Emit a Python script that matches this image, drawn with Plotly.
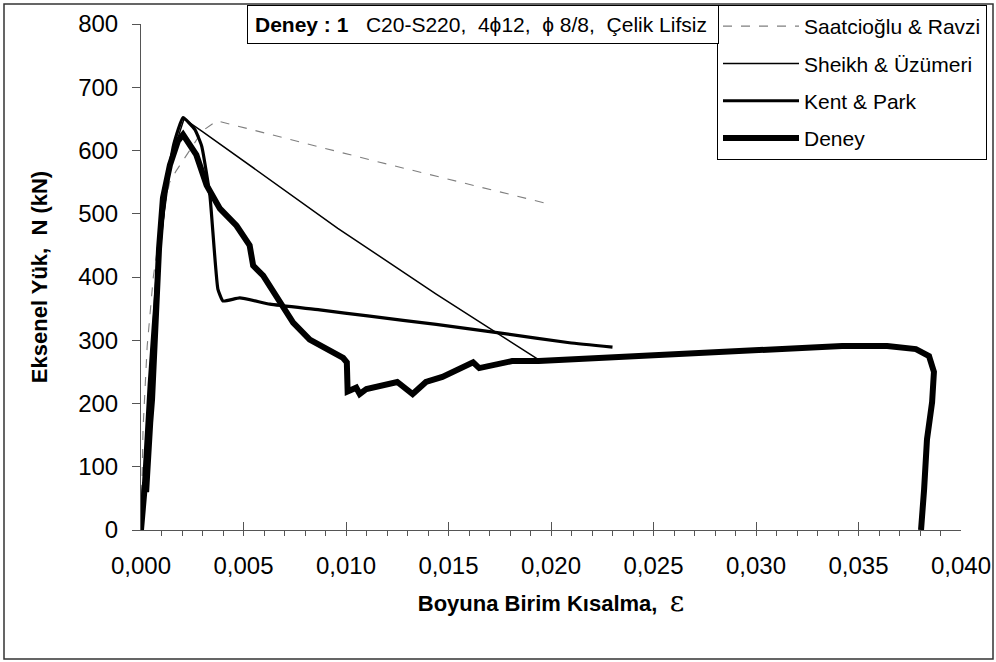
import plotly.graph_objects as go

# ---------------- data (strain, axial load kN) ----------------
saat_eps = [0.0, 0.0001, 0.0003, 0.0006, 0.0010, 0.0014, 0.0017, 0.0024, 0.0030, 0.0037, 0.0112, 0.0197]
saat_N = [0, 160, 290, 400, 490, 550, 567, 602, 631, 647, 585, 517]

sheikh_eps = [0.0, 0.0005, 0.0010, 0.0015, 0.0021, 0.0030, 0.0096, 0.0144, 0.0196]
sheikh_N = [0, 280, 470, 590, 650, 630, 477, 373, 265]

kent_eps = [0.0, 0.0004, 0.0008, 0.0012, 0.0016, 0.00205, 0.00263, 0.00296, 0.00336, 0.00375,
            0.0040, 0.00482, 0.00629, 0.00872, 0.01116, 0.0144, 0.01764, 0.0209, 0.0230]
kent_N = [0, 230, 410, 535, 610, 652, 633, 607, 529, 381,
          362, 367, 357, 348, 338, 325, 311, 296, 289]

deney_eps = [0.0, 0.0001, 0.0002, 0.00025, 0.00034, 0.00045, 0.00054, 0.00068, 0.00088, 0.00107,
             0.00141, 0.0018, 0.00205, 0.0027, 0.0032, 0.00385, 0.00466, 0.0053, 0.00547, 0.00596,
             0.00661, 0.00693, 0.00742, 0.00823, 0.0092, 0.00986, 0.01004, 0.01008, 0.0105, 0.01067,
             0.0110, 0.0125, 0.01325, 0.0139, 0.0147, 0.0162, 0.0165, 0.0175, 0.0181, 0.0194,
             0.0212, 0.0250, 0.0272, 0.0300, 0.0321, 0.0342, 0.0364, 0.0378, 0.03844, 0.03868,
             0.03859, 0.03834, 0.0382, 0.03805]
deney_N = [0, 30, 75, 60, 132, 170, 207, 313, 445, 525,
           577, 615, 625, 593, 545, 508, 481, 450, 418, 402,
           370, 354, 328, 301, 285, 272, 265, 219, 225, 215,
           223, 234, 215, 234, 242, 265, 256, 263, 267, 267,
           270, 276, 278, 284, 288, 291, 291, 286, 275, 250,
           202, 143, 64, 0]

x_tick_step = 0.005
x_minor_step = 0.001
y_tick_step = 100

series_names = ["Saatcioğlu & Ravzi", "Sheikh & Üzümeri", "Kent & Park", "Deney"]
box_text = "<b>Deney : 1</b>   C20-S220,  4ϕ12,  ϕ 8/8,  Çelik Lifsiz"

# ---------------- figure ----------------
fig = go.Figure()
fig.add_trace(go.Scatter(x=saat_eps, y=saat_N, mode="lines", name=series_names[0], legendgroup="a",
                         line=dict(color="#7f7f7f", width=1.1, dash="dash")))
fig.add_trace(go.Scatter(x=sheikh_eps, y=sheikh_N, mode="lines", name=series_names[1], legendgroup="b",
                         line=dict(color="black", width=1.5)))
fig.add_trace(go.Scatter(x=kent_eps, y=kent_N, mode="lines", name=series_names[2], legendgroup="c",
                         line=dict(color="black", width=3.2, shape="spline", smoothing=0.4)))
fig.add_trace(go.Scatter(x=deney_eps, y=deney_N, mode="lines", name=series_names[3], legendgroup="d",
                         line=dict(color="black", width=6)))

L, R, T, B = 141, 35, 24, 132
W, H = 996, 662
pw, ph = W - L - R, H - T - B

def px(x):
    return (x - L) / pw

def py(y):
    return (H - B - y) / ph

fig.update_layout(
    width=W, height=H,
    margin=dict(l=L, r=R, t=T, b=B, autoexpand=False),
    paper_bgcolor="white", plot_bgcolor="white",
    font=dict(family="Liberation Sans, Arial, sans-serif", size=22, color="black"),
    separators=",.",
    showlegend=True,
    legend=dict(x=px(717), y=py(5), xanchor="left", yanchor="top",
                bordercolor="black", borderwidth=1, bgcolor="white",
                font=dict(size=21), tracegroupgap=7, itemwidth=76,
                traceorder="grouped"),
    xaxis=dict(range=[0, 0.040], tickmode="linear", tick0=0, dtick=x_tick_step, tickformat=".3f",
               ticks="inside", ticklen=8, tickcolor="#555", tickwidth=1,
               minor=dict(dtick=x_minor_step, tick0=0, ticks="outside", ticklen=5, tickcolor="#555", tickwidth=1),
               showline=True, linecolor="#555", linewidth=1, showgrid=False, zeroline=False,
               tickfont=dict(size=24), ticklabelstandoff=14,
               title=dict(text="<b>Boyuna Birim Kısalma,</b>  <span style='font-family:DejaVu Serif;font-size:28px'>ε</span>",
                          font=dict(size=22), standoff=17)),
    yaxis=dict(range=[0, 800], tickmode="linear", tick0=0, dtick=y_tick_step,
               ticks="outside", ticklen=8, tickcolor="#555", tickwidth=1,
               showline=True, linecolor="#555", linewidth=1, showgrid=False, zeroline=False,
               tickfont=dict(size=24), ticklabelstandoff=9,
               title=dict(text="<b>Eksenel Yük,  N (kN)</b>", font=dict(size=22), standoff=24)),
    shapes=[dict(type="rect", xref="paper", yref="paper",
                 x0=px(4), x1=px(993), y0=py(659), y1=py(4),
                 line=dict(color="#333", width=1.5), fillcolor="rgba(0,0,0,0)", layer="below")],
    annotations=[dict(text=box_text, xref="paper", yref="paper", x=px(247), y=py(5),
                      xanchor="left", yanchor="top", showarrow=False, align="left",
                      font=dict(size=21), bordercolor="black", borderwidth=1, bgcolor="white",
                      borderpad=7, width=456)],
)

fig.write_html("out.html")
